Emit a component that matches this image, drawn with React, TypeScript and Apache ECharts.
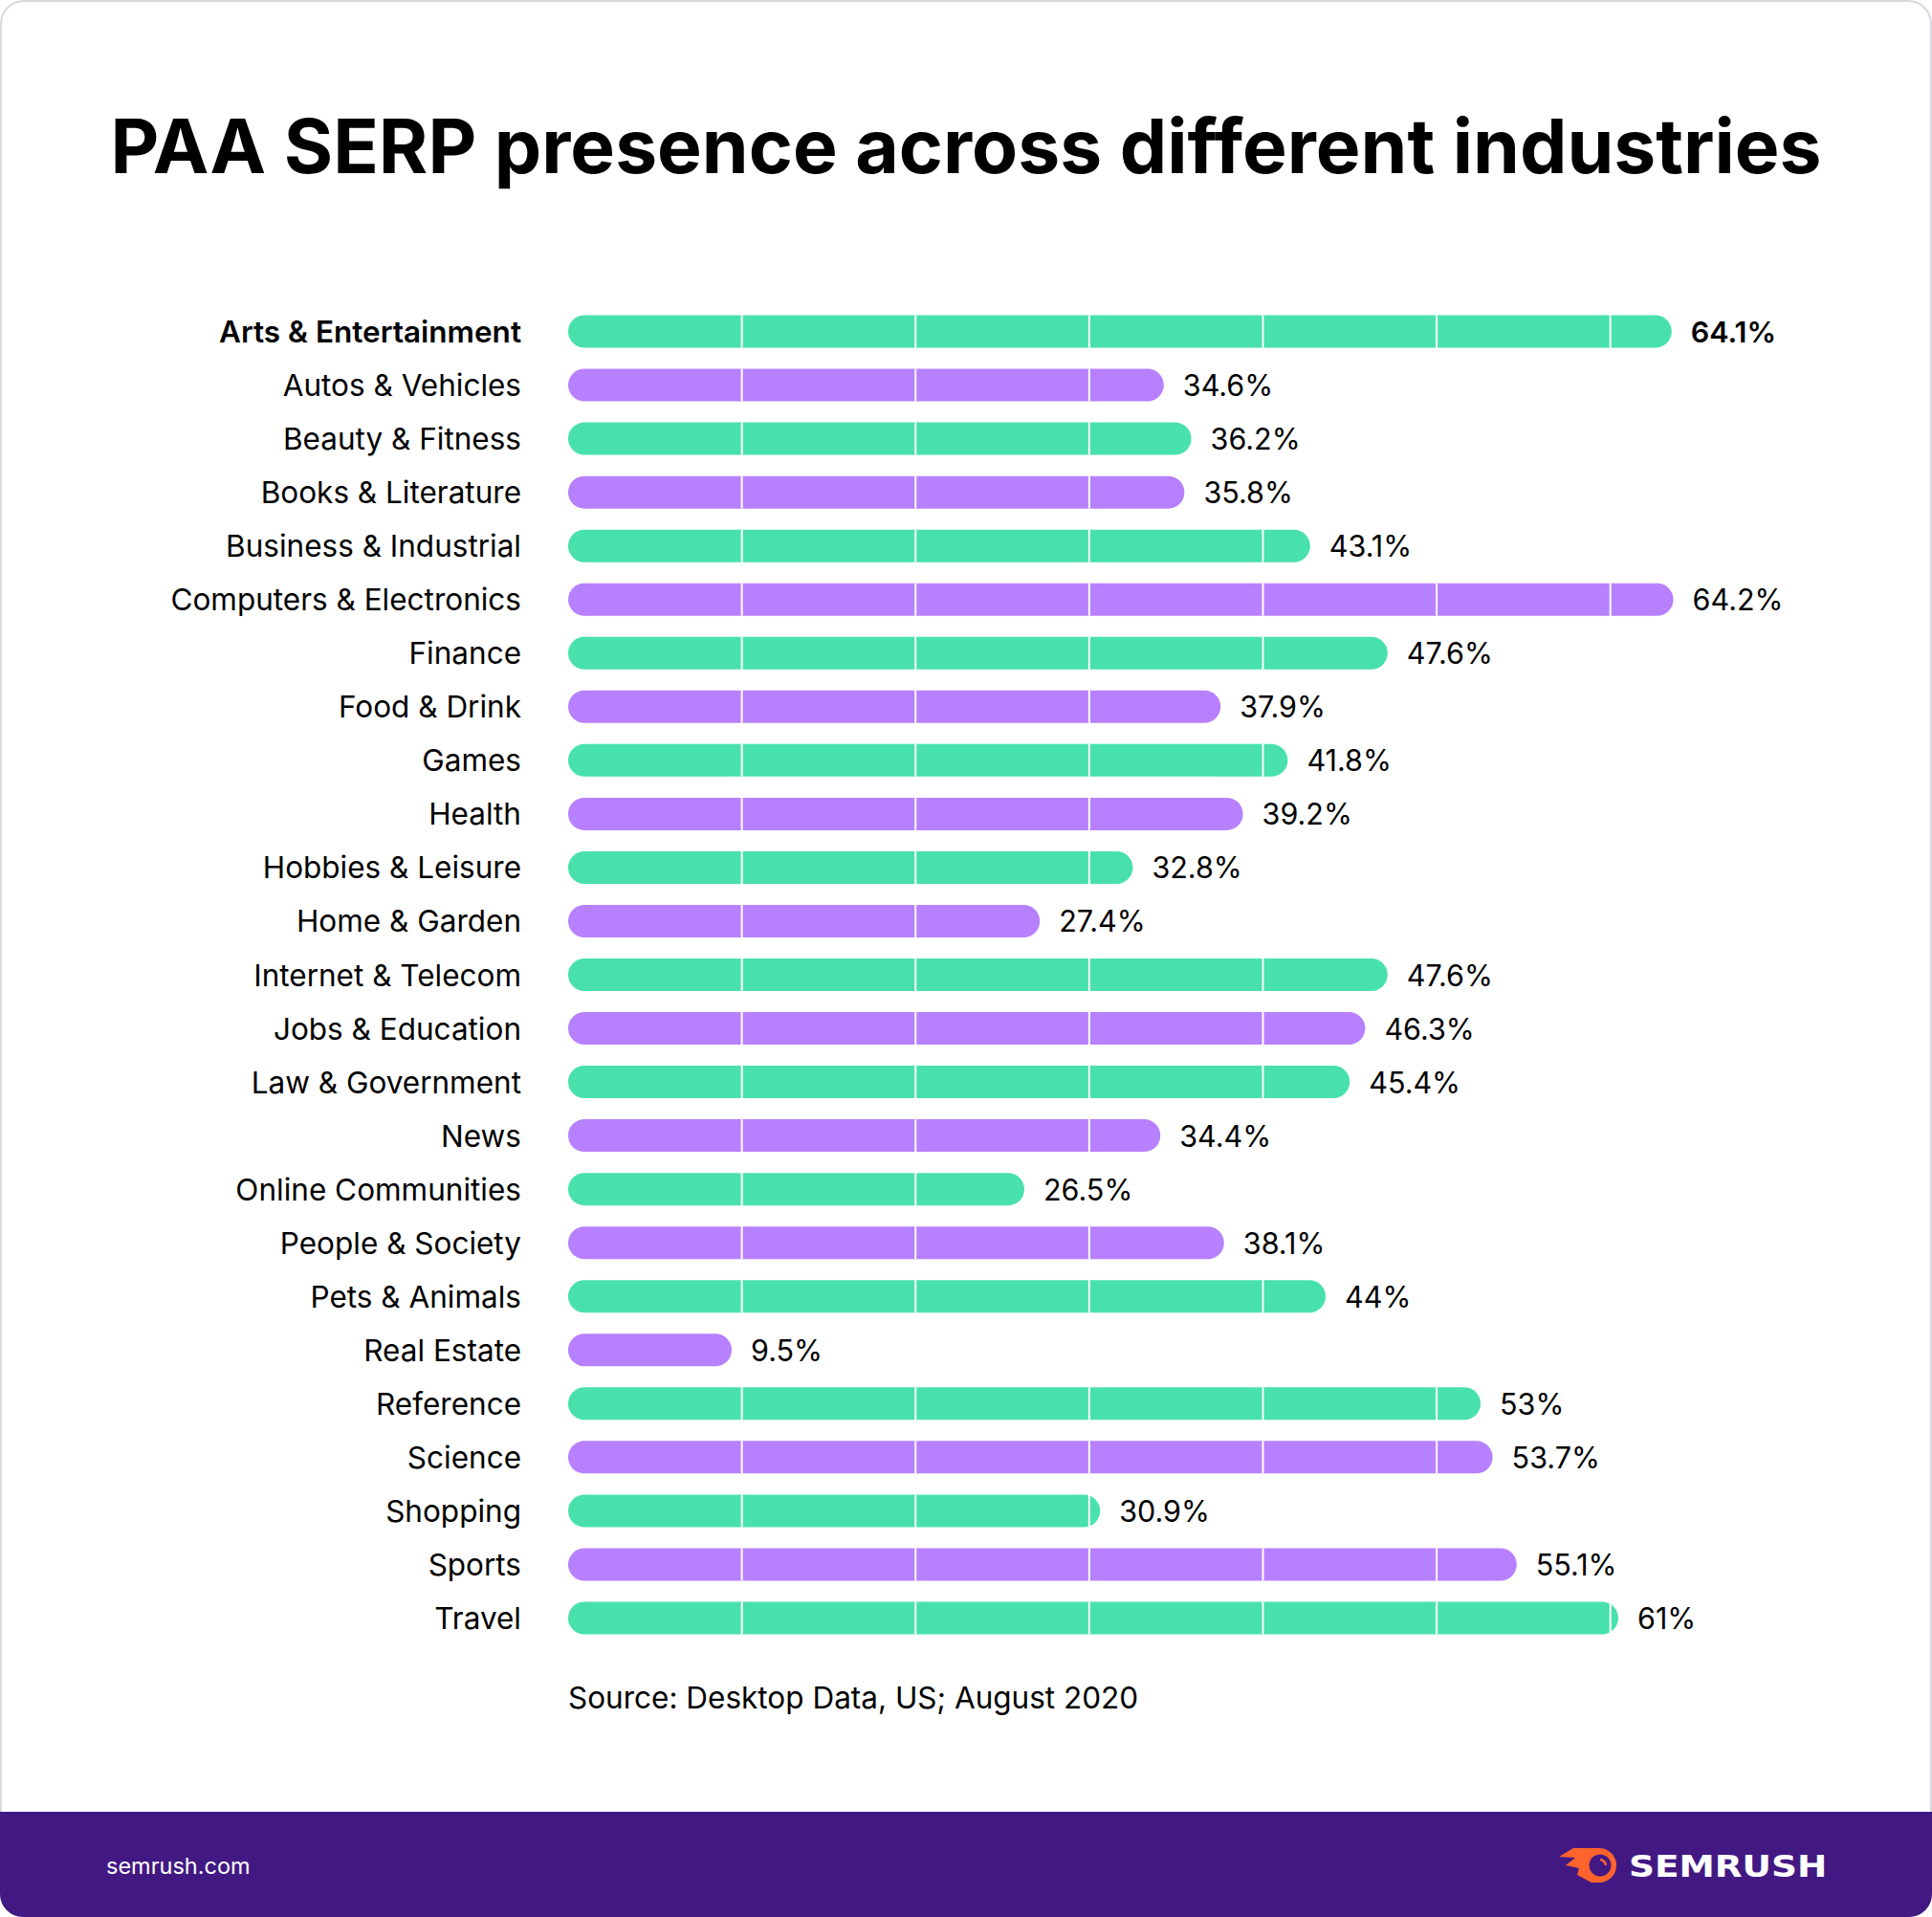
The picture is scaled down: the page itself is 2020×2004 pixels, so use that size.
import React, { useEffect, useRef } from "react";
import * as echarts from "echarts";

const TITLE = "PAA SERP presence across different industries";
const SOURCE = "Source: Desktop Data, US; August 2020";
const FOOTER_SITE = "semrush.com";
const BRAND = "SEMRUSH";

const CATEGORIES = [
  "Arts & Entertainment",
  "Autos & Vehicles",
  "Beauty & Fitness",
  "Books & Literature",
  "Business & Industrial",
  "Computers & Electronics",
  "Finance",
  "Food & Drink",
  "Games",
  "Health",
  "Hobbies & Leisure",
  "Home & Garden",
  "Internet & Telecom",
  "Jobs & Education",
  "Law & Government",
  "News",
  "Online Communities",
  "People & Society",
  "Pets & Animals",
  "Real Estate",
  "Reference",
  "Science",
  "Shopping",
  "Sports",
  "Travel",
];

const VALUES = [
  64.1, 34.6, 36.2, 35.8, 43.1, 64.2, 47.6, 37.9, 41.8, 39.2, 32.8, 27.4, 47.6,
  46.3, 45.4, 34.4, 26.5, 38.1, 44, 9.5, 53, 53.7, 30.9, 55.1, 61,
];

const COLORS = ["#48E1AC", "#B780FF"];
const DIVIDER_STEP = 10.09;

export default function App() {
  const ref = useRef<HTMLDivElement>(null);

  useEffect(() => {
    if (!ref.current) return;
    const chart = echarts.init(ref.current, undefined, { renderer: "svg" });
    const font = "Inter";
    const labelSize = 31.5;

    const option: any = {
      animation: false,
      backgroundColor: "#ffffff",
      grid: { left: 594, top: 318.5, width: 1260, height: 1401, containLabel: false },
      xAxis: {
        type: "value",
        min: 0,
        max: 70,
        show: false,
        splitLine: { show: false },
      },
      yAxis: {
        type: "category",
        data: CATEGORIES,
        inverse: true,
        axisLine: { show: false },
        axisTick: { show: false },
        splitLine: { show: false },
        axisLabel: {
          margin: 49,
          formatter: (v: string, i: number) => (i === 0 ? `{b|${v}}` : `{n|${v}}`),
          rich: {
            b: { fontFamily: font, fontSize: labelSize, fontWeight: 600, color: "#000" },
            n: { fontFamily: font, fontSize: labelSize, fontWeight: 400, color: "#000" },
          },
        },
      },
      series: [
        {
          type: "bar",
          barWidth: 34,
          z: 2,
          itemStyle: { borderRadius: 17 },
          label: {
            show: true,
            position: "right",
            distance: 20,
            formatter: "{c}%",
            fontFamily: font,
            fontSize: 30.5,
            color: "#000",
          },
          data: VALUES.map((v, i) => ({
            value: v,
            itemStyle: { color: COLORS[i % 2] },
            label: i === 0 ? { fontWeight: 600 } : { fontWeight: 400 },
          })),
        },
        {
          type: "custom",
          z: 5,
          silent: true,
          encode: { x: 0, y: 1 },
          data: VALUES.map((v, i) => [v, i]),
          renderItem: (params: any, api: any) => {
            const v = api.value(0);
            const idx = api.value(1);
            const children: any[] = [];
            for (let k = 1; k * DIVIDER_STEP < v; k++) {
              const p = api.coord([k * DIVIDER_STEP, idx]);
              children.push({
                type: "line",
                shape: { x1: p[0], y1: p[1] - 17, x2: p[0], y2: p[1] + 17 },
                style: { stroke: "#ffffff", lineWidth: 2 },
              });
            }
            return { type: "group", children };
          },
        },
      ],
      graphic: [
        {
          type: "rect",
          shape: { x: 1, y: 1, width: 2018, height: 2002, r: 24 },
          style: { fill: "none", stroke: "#d6dae0", lineWidth: 2 },
          z: 0,
        },
        {
          type: "rect",
          shape: { x: 0, y: 1894, width: 2020, height: 110, r: [0, 0, 24, 24] },
          style: { fill: "#421983" },
          z: 1,
        },
        {
          type: "text",
          x: 1010,
          y: 152,
          style: {
            text: TITLE,
            fontFamily: font,
            fontWeight: 700,
            fontSize: 78.5,
            fill: "#000",
            align: "center",
            verticalAlign: "middle",
          },
        },
        {
          type: "text",
          x: 594,
          y: 1774,
          style: {
            text: SOURCE,
            fontFamily: font,
            fontSize: labelSize,
            fill: "#000",
            align: "left",
            verticalAlign: "middle",
          },
        },
        {
          type: "text",
          x: 111,
          y: 1950,
          z: 3,
          style: {
            text: FOOTER_SITE,
            fontFamily: font,
            fontSize: 23.5,
            fill: "#ffffff",
            align: "left",
            verticalAlign: "middle",
          },
        },
        {
          type: "polygon",
          z: 3,
          shape: {
            points: [
              [1672, 1932],
              [1645, 1932],
              [1630, 1941],
              [1647, 1942],
              [1637, 1950],
              [1651, 1953],
              [1649, 1960],
              [1664, 1968],
              [1672, 1968],
            ],
          },
          style: { fill: "#FF642D" },
        },
        {
          type: "circle",
          z: 3,
          shape: { cx: 1672, cy: 1950, r: 18 },
          style: { fill: "#FF642D" },
        },
        {
          type: "circle",
          z: 4,
          shape: { cx: 1673, cy: 1950, r: 11.5 },
          style: { fill: "#421983" },
        },
        {
          type: "arc",
          z: 5,
          shape: { cx: 1672, cy: 1951, r: 7, startAngle: -Math.PI * 0.45, endAngle: -Math.PI * 0.05 },
          style: { stroke: "#FF642D", lineWidth: 2.5, fill: "none" },
        },
        {
          type: "text",
          x: 1703,
          y: 1951,
          scaleX: 1.17,
          z: 3,
          style: {
            text: BRAND,
            fontFamily: "DejaVu Sans",
            fontWeight: 700,
            fontSize: 32,
            fill: "#ffffff",
            align: "left",
            verticalAlign: "middle",
          },
        },
      ],
    };

    chart.setOption(option);
    return () => chart.dispose();
  }, []);

  return (
    <div
      ref={ref}
      style={{ position: "absolute", left: 0, top: 0, width: 2020, height: 2004 }}
    />
  );
}
